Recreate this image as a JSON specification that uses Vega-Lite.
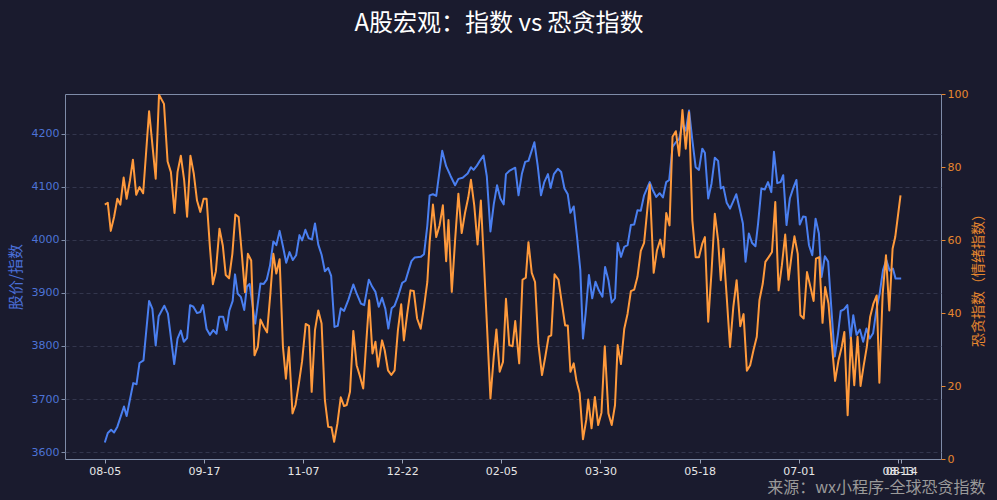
{
  "$schema": "https://vega.github.io/schema/vega-lite/v6.json",
  "description": "A股宏观：上证指数与恐贪指数双轴折线图",
  "width": 876,
  "height": 365,
  "autosize": {"type": "none"},
  "padding": {"left": 65, "top": 94, "right": 56, "bottom": 41},
  "background": "#1a1b2e",
  "title": {
    "text": "A股宏观：指数 vs 恐贪指数",
    "font": "Noto Sans CJK SC",
    "fontSize": 24,
    "fontWeight": "normal",
    "color": "#ffffff",
    "anchor": "middle",
    "dx": -4,
    "offset": 52
  },
  "config": {
    "view": {"stroke": "#7f8ca8", "strokeWidth": 1},
    "axis": {
      "domain": false,
      "labelFont": "DejaVu Sans",
      "labelFontSize": 11,
      "titleFont": "Noto Sans CJK SC",
      "titleFontWeight": "normal"
    }
  },
  "datasets": {
    "index": [
      {"i":0,"v":3618},{"i":0.9,"v":3636},{"i":1.9,"v":3642},{"i":2.8,"v":3637},{"i":3.8,"v":3648},
      {"i":5.8,"v":3686},{"i":6.6,"v":3668},{"i":8.6,"v":3730},{"i":9.6,"v":3728},{"i":10.5,"v":3768},
      {"i":11.7,"v":3773},{"i":13.4,"v":3885},{"i":14.4,"v":3870},{"i":15.4,"v":3801},{"i":16.3,"v":3856},
      {"i":18,"v":3876},{"i":19.1,"v":3861},{"i":21,"v":3766},{"i":22,"v":3814},{"i":23,"v":3829},
      {"i":23.9,"v":3808},{"i":24.9,"v":3815},{"i":25.8,"v":3877},{"i":26.8,"v":3874},{"i":27.9,"v":3862},
      {"i":28.9,"v":3864},{"i":29.7,"v":3877},{"i":30.8,"v":3832},{"i":31.8,"v":3821},{"i":32.8,"v":3830},
      {"i":33.8,"v":3823},{"i":34.6,"v":3855},{"i":35.8,"v":3855},{"i":36.8,"v":3830},{"i":37.7,"v":3867},
      {"i":38.7,"v":3885},{"i":39.4,"v":3935},{"i":40.2,"v":3899},{"i":41.2,"v":3892},{"i":42.2,"v":3868},
      {"i":43,"v":3912},{"i":43.8,"v":3917},{"i":45.5,"v":3842},{"i":47.1,"v":3918},{"i":48.1,"v":3917},
      {"i":49,"v":3925},{"i":50,"v":3952},{"i":51,"v":3997},{"i":51.9,"v":3990},{"i":52.9,"v":4017},
      {"i":53.9,"v":3988},{"i":54.9,"v":3957},{"i":55.9,"v":3977},{"i":56.9,"v":3962},{"i":57.9,"v":3971},
      {"i":58.9,"v":4009},{"i":59.7,"v":3999},{"i":60.7,"v":4019},{"i":61.7,"v":4003},{"i":62.7,"v":4001},
      {"i":63.6,"v":4031},{"i":64.6,"v":3991},{"i":65.6,"v":3972},{"i":66.6,"v":3941},{"i":67.6,"v":3947},
      {"i":68.5,"v":3932},{"i":69.5,"v":3836},{"i":70.5,"v":3838},{"i":71.4,"v":3871},{"i":72.4,"v":3866},
      {"i":73.7,"v":3887},{"i":75.2,"v":3916},{"i":76.2,"v":3899},{"i":77.5,"v":3880},{"i":78.5,"v":3877},
      {"i":79.9,"v":3925},{"i":80.9,"v":3912},{"i":81.9,"v":3902},{"i":82.9,"v":3874},{"i":83.9,"v":3891},
      {"i":84.9,"v":3870},{"i":85.8,"v":3833},{"i":86.8,"v":3871},{"i":87.7,"v":3876},{"i":88.7,"v":3893},
      {"i":90,"v":3919},{"i":91,"v":3923},{"i":92,"v":3944},{"i":92.8,"v":3960},{"i":93.8,"v":3967},
      {"i":95.6,"v":3968},{"i":96.6,"v":3973},{"i":97.6,"v":4027},{"i":98.3,"v":4084},{"i":99.3,"v":4086},
      {"i":100.3,"v":4083},{"i":102.1,"v":4168},{"i":103.3,"v":4139},{"i":104.6,"v":4121},{"i":106,"v":4103},
      {"i":107,"v":4115},{"i":108.3,"v":4117},{"i":109.8,"v":4125},{"i":110.8,"v":4137},{"i":111.6,"v":4132},
      {"i":112.6,"v":4140},{"i":113.6,"v":4150},{"i":114.6,"v":4159},{"i":115.6,"v":4120},{"i":116.7,"v":4016},
      {"i":117.7,"v":4067},{"i":118.7,"v":4103},{"i":119.7,"v":4078},{"i":120.7,"v":4067},{"i":121.4,"v":4124},
      {"i":122.4,"v":4130},{"i":124.2,"v":4136},{"i":125.2,"v":4084},{"i":126.2,"v":4124},{"i":127.2,"v":4147},
      {"i":128.2,"v":4149},{"i":130,"v":4184},{"i":131,"v":4140},{"i":132,"v":4084},{"i":133,"v":4109},
      {"i":134.1,"v":4124},{"i":134.9,"v":4098},{"i":135.9,"v":4124},{"i":137.1,"v":4134},{"i":138.1,"v":4128},
      {"i":139.1,"v":4097},{"i":140.1,"v":4086},{"i":140.9,"v":4051},{"i":141.9,"v":4063},{"i":142.9,"v":4006},
      {"i":143.9,"v":3943},{"i":144.7,"v":3814},{"i":145.5,"v":3861},{"i":146.5,"v":3934},{"i":147.5,"v":3890},
      {"i":148.5,"v":3921},{"i":149.5,"v":3905},{"i":150.6,"v":3893},{"i":151.4,"v":3949},{"i":152.4,"v":3924},
      {"i":153.4,"v":3882},{"i":154.4,"v":3890},{"i":155.2,"v":3994},{"i":156.2,"v":3968},{"i":157.2,"v":3987},
      {"i":158.2,"v":3990},{"i":159.2,"v":4028},{"i":160.2,"v":4029},{"i":161.2,"v":4056},{"i":162.2,"v":4055},
      {"i":163.2,"v":4084},{"i":164.9,"v":4109},{"i":165.9,"v":4093},{"i":166.9,"v":4081},{"i":167.9,"v":4088},
      {"i":168.9,"v":4080},{"i":169.9,"v":4109},{"i":170.8,"v":4113},{"i":171.8,"v":4175},{"i":172.8,"v":4184},
      {"i":173.8,"v":4190},{"i":174.8,"v":4219},{"i":175.8,"v":4206},{"i":176.8,"v":4244},{"i":177.8,"v":4188},
      {"i":178.8,"v":4137},{"i":179.8,"v":4132},{"i":180.8,"v":4172},{"i":181.6,"v":4164},{"i":182.6,"v":4078},
      {"i":183.6,"v":4106},{"i":184.6,"v":4155},{"i":185.6,"v":4149},{"i":186.4,"v":4097},{"i":187.2,"v":4100},
      {"i":188.2,"v":4070},{"i":189.2,"v":4059},{"i":190.2,"v":4073},{"i":191.1,"v":4086},{"i":192.1,"v":4059},
      {"i":193.1,"v":4031},{"i":193.9,"v":3959},{"i":194.9,"v":4012},{"i":195.9,"v":3994},{"i":196.9,"v":3988},
      {"i":197.7,"v":4031},{"i":198.7,"v":4097},{"i":199.7,"v":4095},{"i":200.7,"v":4109},{"i":201.7,"v":4090},
      {"i":202.5,"v":4166},{"i":203.5,"v":4107},{"i":204.5,"v":4109},{"i":205.3,"v":4122},{"i":206.3,"v":4028},
      {"i":207.3,"v":4078},{"i":208.3,"v":4097},{"i":209.3,"v":4113},{"i":210.3,"v":4029},{"i":211.3,"v":4044},
      {"i":212.1,"v":4043},{"i":213.1,"v":3990},{"i":214.1,"v":3971},{"i":215.1,"v":4040},{"i":216.1,"v":4012},
      {"i":216.9,"v":3930},{"i":217.9,"v":3969},{"i":218.9,"v":3959},{"i":219.9,"v":3868},{"i":220.9,"v":3780},
      {"i":221.9,"v":3824},{"i":222.7,"v":3866},{"i":223.7,"v":3869},{"i":224.7,"v":3877},{"i":225.7,"v":3814},
      {"i":226.5,"v":3858},{"i":227.5,"v":3821},{"i":228.5,"v":3831},{"i":229.5,"v":3808},{"i":230.5,"v":3833},
      {"i":231.5,"v":3814},{"i":232.5,"v":3824},{"i":233.5,"v":3868},{"i":234.5,"v":3899},{"i":235.5,"v":3943},
      {"i":236.5,"v":3962},{"i":237.5,"v":3942},{"i":238.5,"v":3946},{"i":239.3,"v":3927},{"i":241,"v":3927}
    ],
    "fear": [
      {"i":0,"f":69.7},{"i":0.9,"f":70.2},{"i":1.8,"f":62.5},{"i":2.8,"f":66.3},{"i":3.8,"f":71.3},
      {"i":4.7,"f":69.7},{"i":5.7,"f":77.1},{"i":6.6,"f":71.3},{"i":7.6,"f":76.3},{"i":8.5,"f":82},
      {"i":9.5,"f":72.4},{"i":10.5,"f":74.5},{"i":11.6,"f":72.8},{"i":13.4,"f":95.3},{"i":15.4,"f":76.8},
      {"i":16.4,"f":99.8},{"i":17.9,"f":97.3},{"i":19,"f":81.5},{"i":20,"f":78.6},{"i":21.1,"f":67.4},
      {"i":22,"f":78.6},{"i":23,"f":83.1},{"i":24,"f":76.5},{"i":24.9,"f":66.4},{"i":25.9,"f":83.1},
      {"i":26.9,"f":78.3},{"i":27.9,"f":70.8},{"i":28.9,"f":67.7},{"i":29.9,"f":71.3},{"i":30.8,"f":71.3},
      {"i":31.8,"f":58.1},{"i":32.7,"f":47.9},{"i":33.6,"f":51.4},{"i":34.7,"f":63.1},{"i":35.7,"f":58.5},
      {"i":36.6,"f":50.4},{"i":37.6,"f":49.5},{"i":38.6,"f":56.2},{"i":39.5,"f":67},{"i":40.5,"f":66.3},
      {"i":41.5,"f":55.8},{"i":42.4,"f":45.7},{"i":43.3,"f":56.2},{"i":44.3,"f":54.4},{"i":45.3,"f":28.4},
      {"i":46.3,"f":30.7},{"i":47.1,"f":38.2},{"i":48.1,"f":36.3},{"i":49.1,"f":34.7},{"i":50.1,"f":45.3},
      {"i":51,"f":56.2},{"i":51.9,"f":50.8},{"i":52.9,"f":54.7},{"i":53.9,"f":30.8},{"i":54.8,"f":22},
      {"i":55.7,"f":30.7},{"i":56.8,"f":12.5},{"i":57.7,"f":14.8},{"i":58.7,"f":20.5},{"i":59.7,"f":26.8},
      {"i":60.8,"f":37},{"i":61.8,"f":36.5},{"i":62.6,"f":18.4},{"i":63.6,"f":35.3},{"i":64.6,"f":40.7},
      {"i":65.6,"f":37.1},{"i":66.6,"f":16.1},{"i":67.6,"f":8.8},{"i":68.6,"f":8.7},{"i":69.4,"f":4.7},
      {"i":70.4,"f":9.8},{"i":71.4,"f":16.9},{"i":72.4,"f":14.5},{"i":73.2,"f":14.8},{"i":74.2,"f":18.4},
      {"i":75.2,"f":35.1},{"i":76.2,"f":25.7},{"i":77.2,"f":22.7},{"i":78.2,"f":19.3},{"i":79,"f":30.3},
      {"i":80,"f":43.5},{"i":81,"f":28.9},{"i":81.9,"f":32.1},{"i":82.7,"f":25.3},{"i":83.9,"f":32.5},
      {"i":84.7,"f":29.8},{"i":85.7,"f":24.3},{"i":86.7,"f":23},{"i":87.7,"f":24.3},{"i":88.7,"f":35.3},
      {"i":89.7,"f":42.4},{"i":90.5,"f":32.5},{"i":91.5,"f":39.7},{"i":92.5,"f":46.2},{"i":93.5,"f":46},
      {"i":94.5,"f":38.5},{"i":95.6,"f":35.7},{"i":96.6,"f":41.7},{"i":97.6,"f":48.5},{"i":98.3,"f":59.4},
      {"i":99.3,"f":69.7},{"i":100.3,"f":60.8},{"i":101.3,"f":64},{"i":102.3,"f":69.5},{"i":103.3,"f":54.2},
      {"i":104,"f":65.5},{"i":105,"f":45.8},{"i":106,"f":59.9},{"i":107,"f":72.7},{"i":108,"f":61.9},
      {"i":109,"f":67.4},{"i":110,"f":71.7},{"i":110.8,"f":76.5},{"i":111.8,"f":69.5},{"i":112.8,"f":58.8},
      {"i":113.8,"f":70.8},{"i":114.8,"f":52.6},{"i":116.7,"f":16.6},{"i":117.7,"f":28},{"i":118.5,"f":35.5},
      {"i":119.5,"f":23.9},{"i":120.5,"f":26.6},{"i":121.4,"f":43.9},{"i":122.4,"f":31.2},{"i":123.4,"f":30.9},
      {"i":124.2,"f":37.8},{"i":125.4,"f":26.2},{"i":126.4,"f":49.1},{"i":127.4,"f":49.7},{"i":128.2,"f":59.4},
      {"i":129.2,"f":51},{"i":130.2,"f":48.5},{"i":131.2,"f":31.6},{"i":132.3,"f":23},{"i":133.3,"f":28},
      {"i":134.3,"f":33.5},{"i":135.1,"f":33.9},{"i":136.1,"f":50.6},{"i":137.3,"f":49.1},{"i":138.3,"f":42.8},
      {"i":139.3,"f":36.6},{"i":140.1,"f":36.6},{"i":140.9,"f":23.9},{"i":141.9,"f":26.2},{"i":142.7,"f":21.6},
      {"i":143.7,"f":18},{"i":144.7,"f":5.4},{"i":145.7,"f":10.7},{"i":146.3,"f":16.3},{"i":147.3,"f":8.4},
      {"i":148.3,"f":17},{"i":149.3,"f":9.3},{"i":150.3,"f":12.7},{"i":151.3,"f":30.9},{"i":152.4,"f":12.5},
      {"i":153.4,"f":9.3},{"i":154.4,"f":14.8},{"i":155.2,"f":31.2},{"i":156.2,"f":26},{"i":157.2,"f":35.7},
      {"i":158.2,"f":39.8},{"i":159.2,"f":46},{"i":160.2,"f":46.4},{"i":161.2,"f":49.9},{"i":162.2,"f":57},
      {"i":163.2,"f":59.2},{"i":164.9,"f":75.2},{"i":166.1,"f":51},{"i":167.1,"f":57.2},{"i":168.1,"f":60.1},
      {"i":169.1,"f":55.3},{"i":169.9,"f":67.4},{"i":170.9,"f":64},{"i":171.8,"f":88.3},{"i":172.8,"f":89.8},
      {"i":173.8,"f":83.1},{"i":174.8,"f":95.6},{"i":175.8,"f":85},{"i":176.8,"f":95},{"i":177.8,"f":65.4},
      {"i":178.8,"f":55.3},{"i":179.8,"f":55.3},{"i":180.8,"f":59},{"i":181.6,"f":60.8},{"i":182.6,"f":37.6},
      {"i":183.6,"f":51.2},{"i":184.6,"f":67.2},{"i":185.6,"f":59.9},{"i":186.4,"f":49},{"i":187.2,"f":57.6},
      {"i":188.2,"f":44.4},{"i":189.2,"f":30.7},{"i":190.2,"f":41.7},{"i":191.2,"f":49},{"i":192.3,"f":36.4},
      {"i":193.3,"f":39.7},{"i":194.3,"f":24.2},{"i":195.3,"f":25.7},{"i":196.3,"f":29.8},{"i":197.3,"f":33.5},
      {"i":198.1,"f":43.5},{"i":199.1,"f":48},{"i":199.9,"f":54},{"i":200.9,"f":55.3},{"i":201.9,"f":56.7},
      {"i":202.9,"f":70.4},{"i":203.9,"f":46.2},{"i":204.9,"f":53.1},{"i":205.9,"f":61.5},{"i":206.9,"f":49.1},
      {"i":207.9,"f":56.2},{"i":208.7,"f":61},{"i":209.7,"f":56.2},{"i":210.5,"f":39.4},{"i":211.5,"f":38.5},
      {"i":212.5,"f":51.2},{"i":213.5,"f":47.3},{"i":214.5,"f":43.3},{"i":215.2,"f":54.9},{"i":216.2,"f":55.3},
      {"i":217.2,"f":37.3},{"i":218,"f":47.1},{"i":219,"f":42.6},{"i":220,"f":31.6},{"i":221,"f":21.4},
      {"i":222,"f":26.9},{"i":223,"f":30.7},{"i":223.8,"f":34.8},{"i":224.8,"f":12},{"i":225.8,"f":33.3},
      {"i":226.8,"f":20.2},{"i":227.8,"f":33.5},{"i":228.7,"f":20},{"i":229.6,"f":25.3},{"i":230.6,"f":30.7},
      {"i":231.6,"f":38.9},{"i":232.6,"f":42.6},{"i":233.6,"f":44.8},{"i":234.4,"f":20.9},{"i":235.4,"f":45.3},
      {"i":236.4,"f":55.8},{"i":237.4,"f":40.7},{"i":238.4,"f":57.6},{"i":239.2,"f":60.8},{"i":240.8,"f":72.2}
    ]
  },
  "encoding": {
    "x": {
      "field": "i",
      "type": "quantitative",
      "scale": {"domain": [-12.05, 253.05], "nice": false, "zero": false},
      "axis": {
        "values": [0, 30, 60, 90, 120, 150, 180, 210, 240, 241],
        "labelExpr": "datum.value == 241 ? '08-14' : ['08-05','09-17','11-07','12-22','02-05','03-30','05-18','07-01','08-13'][floor(datum.value / 30)]",
        "labelOverlap": false,
        "labelFlush": false,
        "labelColor": "#e6e6e6",
        "labelPadding": 2,
        "tickColor": "#9aa3b8",
        "tickSize": 4,
        "grid": false,
        "title": "来源：wx小程序-全球恐贪指数",
        "titleColor": "#9a9a9a",
        "titleFontSize": 16,
        "titleAnchor": "end",
        "titleAlign": "right",
        "titleBaseline": "alphabetic",
        "titleX": 920,
        "titleY": 33
      }
    }
  },
  "layer": [
    {
      "data": {"name": "index"},
      "mark": {"type": "line", "color": "#4a7ff0", "strokeWidth": 2, "strokeJoin": "round"},
      "encoding": {
        "y": {
          "field": "v",
          "type": "quantitative",
          "scale": {"domain": [3587, 4275], "nice": false, "zero": false},
          "axis": {
            "values": [3600, 3700, 3800, 3900, 4000, 4100, 4200],
            "format": "d",
            "title": "股价/指数",
            "titleColor": "#4a6fd8",
            "titleFontSize": 15,
            "titlePadding": 8,
            "labelColor": "#4d73d6",
            "tickColor": "#7f8ca8",
            "tickSize": 4,
            "grid": true,
            "gridColor": "#3a3d55",
            "gridDash": [4, 3],
            "gridWidth": 0.8
          }
        }
      }
    },
    {
      "data": {"name": "fear"},
      "mark": {"type": "line", "color": "#ff9a3c", "strokeWidth": 2, "strokeJoin": "round"},
      "encoding": {
        "y": {
          "field": "f",
          "type": "quantitative",
          "scale": {"domain": [0, 100], "nice": false},
          "axis": {
            "orient": "right",
            "values": [0, 20, 40, 60, 80, 100],
            "title": "恐贪指数（情绪指数）",
            "titleAngle": 270,
            "titleBaseline": "top",
            "titleColor": "#e8872e",
            "titleFontSize": 14,
            "titlePadding": 4,
            "labelColor": "#e8872e",
            "tickColor": "#e8872e",
            "tickSize": 4,
            "grid": false
          }
        }
      }
    }
  ],
  "resolve": {"scale": {"y": "independent"}}
}
